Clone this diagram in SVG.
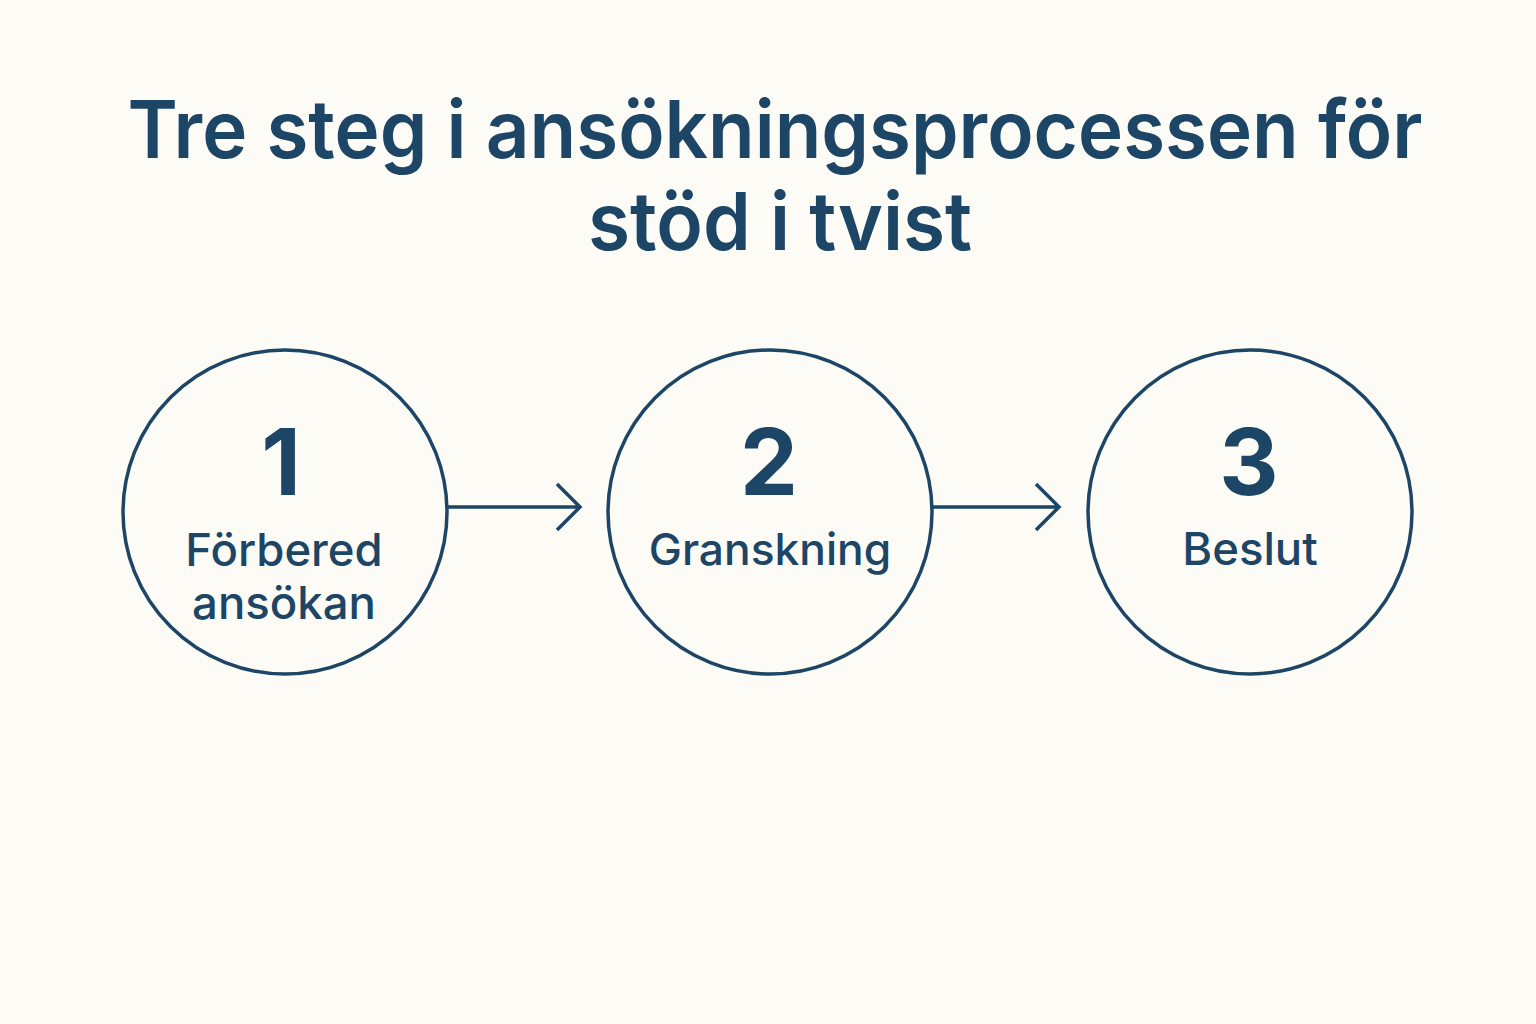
<svg xmlns="http://www.w3.org/2000/svg" width="1536" height="1024" viewBox="0 0 1536 1024">
<style>
.t{font-family:Inter,"Noto Sans","Liberation Sans",sans-serif;fill:#1c4566;text-anchor:middle}
.title{font-size:80px;font-weight:600}
.num{font-size:92px;font-weight:700}
.lbl{font-size:45.5px;font-weight:500}
.c{fill:none;stroke:#1c4566;stroke-width:3.5}
.a{fill:none;stroke:#1c4566;stroke-width:3.5;stroke-linecap:butt}
</style>
<rect width="1536" height="1024" fill="#fdfbf5"/>
<g id="title">
<text class="t title" x="775" y="158" textLength="1295" lengthAdjust="spacingAndGlyphs">Tre steg i ansökningsprocessen för</text>
<text class="t title" x="780" y="250" textLength="384" lengthAdjust="spacingAndGlyphs">stöd i tvist</text>
</g>
<g id="connectors">
<path class="a" d="M447 507H580M557 484L580 507L557 530"/>
<path class="a" d="M933 507H1059M1036 484L1059 507L1036 530"/>
</g>
<g id="step1">
<circle class="c" cx="285" cy="512" r="162"/>
<text class="t num" x="281" y="495">1</text>
<text class="t lbl" x="284" y="566">Förbered</text>
<text class="t lbl" x="284" y="619">ansökan</text>
</g>
<g id="step2">
<circle class="c" cx="770" cy="512" r="162"/>
<text class="t num" x="769" y="495">2</text>
<text class="t lbl" x="770" y="565" style="font-size:44.3px">Granskning</text>
</g>
<g id="step3">
<circle class="c" cx="1250" cy="512" r="162"/>
<text class="t num" x="1249" y="495">3</text>
<text class="t lbl" x="1250" y="565">Beslut</text>
</g>
</svg>
